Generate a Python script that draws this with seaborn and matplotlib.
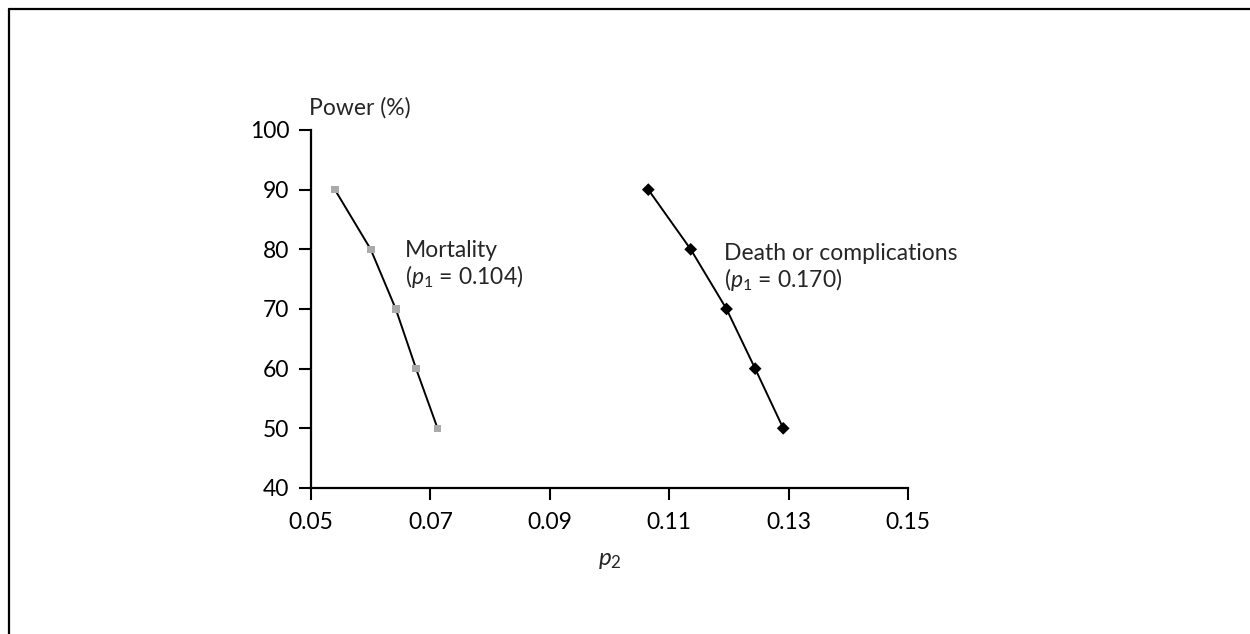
""" Power curves for p2 at two baseline rates """

import numpy as np
import pandas as pd
import seaborn as sns
import matplotlib.pyplot as plt
from matplotlib.lines import Line2D

# power levels (%)
power = [90, 80, 70, 60, 50]

# p2 values
mortality_p2 = [0.054, 0.060, 0.0642, 0.0676, 0.0712]
death_p2 = [0.1065, 0.1136, 0.1196, 0.1244, 0.1291]

x_ticks = [0.05, 0.07, 0.09, 0.11, 0.13, 0.15]
x_tick_labels = ["0.05", "0.07", "0.09", "0.11", "0.13", "0.15"]
y_ticks = [40, 50, 60, 70, 80, 90, 100]

df = pd.DataFrame({
    "p2": mortality_p2 + death_p2,
    "power": power + power,
    "outcome": ["Mortality"] * len(power) + ["Death or complications"] * len(power),
})

sns.set_style("ticks")
plt.rcParams["font.family"] = ["Lato", "DejaVu Sans"]
plt.rcParams["mathtext.fontset"] = "custom"
plt.rcParams["mathtext.rm"] = "Lato"
plt.rcParams["mathtext.it"] = "Lato:italic"

fs = 16.5

fig = plt.figure(figsize=(12.5, 6.34), dpi=100)
ax = fig.add_axes([0.2488, 0.2303, 0.7264 - 0.2488, 0.7950 - 0.2303])

# lines
sns.lineplot(data=df, x="p2", y="power", units="outcome", estimator=None,
             color="black", linewidth=1.4, ax=ax, legend=False)

# markers
sns.scatterplot(data=df[df.outcome == "Mortality"], x="p2", y="power",
                marker="s", s=30, color="#aaaaaa", edgecolor="none", ax=ax, zorder=3)
sns.scatterplot(data=df[df.outcome != "Mortality"], x="p2", y="power",
                marker="D", s=42, color="black", edgecolor="none", ax=ax, zorder=3)

ax.set_xlim(0.05, 0.15)
ax.set_ylim(40, 100)
ax.set_xticks(x_ticks)
ax.set_xticklabels(x_tick_labels)
ax.set_yticks(y_ticks)
ax.tick_params(direction="out", length=8.5, width=1.5, labelsize=fs, colors="black")
ax.tick_params(axis="x", pad=9)
ax.tick_params(axis="y", pad=7)
sns.despine(ax=ax)
for s in ["left", "bottom"]:
    ax.spines[s].set_linewidth(1.6)
    ax.spines[s].set_color("black")

ax.set_xlabel(r"$\it{p}_{2}$", fontsize=fs + 1, labelpad=12)
ax.set_ylabel("")
ax.text(-0.003, 1.061, "Power (%)", transform=ax.transAxes, fontsize=fs,
        ha="left", va="center")

# annotations
ax.text(0.0657, 81.5, "Mortality\n(" + r"$\it{p}_{1}$" + " = 0.104)", fontsize=fs,
        ha="left", va="top", linespacing=1.1)
ax.text(0.1191, 81.1, "Death or complications\n(" + r"$\it{p}_{1}$" + " = 0.170)", fontsize=fs,
        ha="left", va="top", linespacing=1.1)

# border frame (top and left only)
fig.add_artist(Line2D([9 / 1250, 1.0], [1 - 9 / 634, 1 - 9 / 634], color="black",
                      linewidth=1.6, transform=fig.transFigure))
fig.add_artist(Line2D([9 / 1250, 9 / 1250], [0.0, 1 - 9 / 634], color="black",
                      linewidth=1.6, transform=fig.transFigure))

fig.savefig("out.png", dpi=100)
